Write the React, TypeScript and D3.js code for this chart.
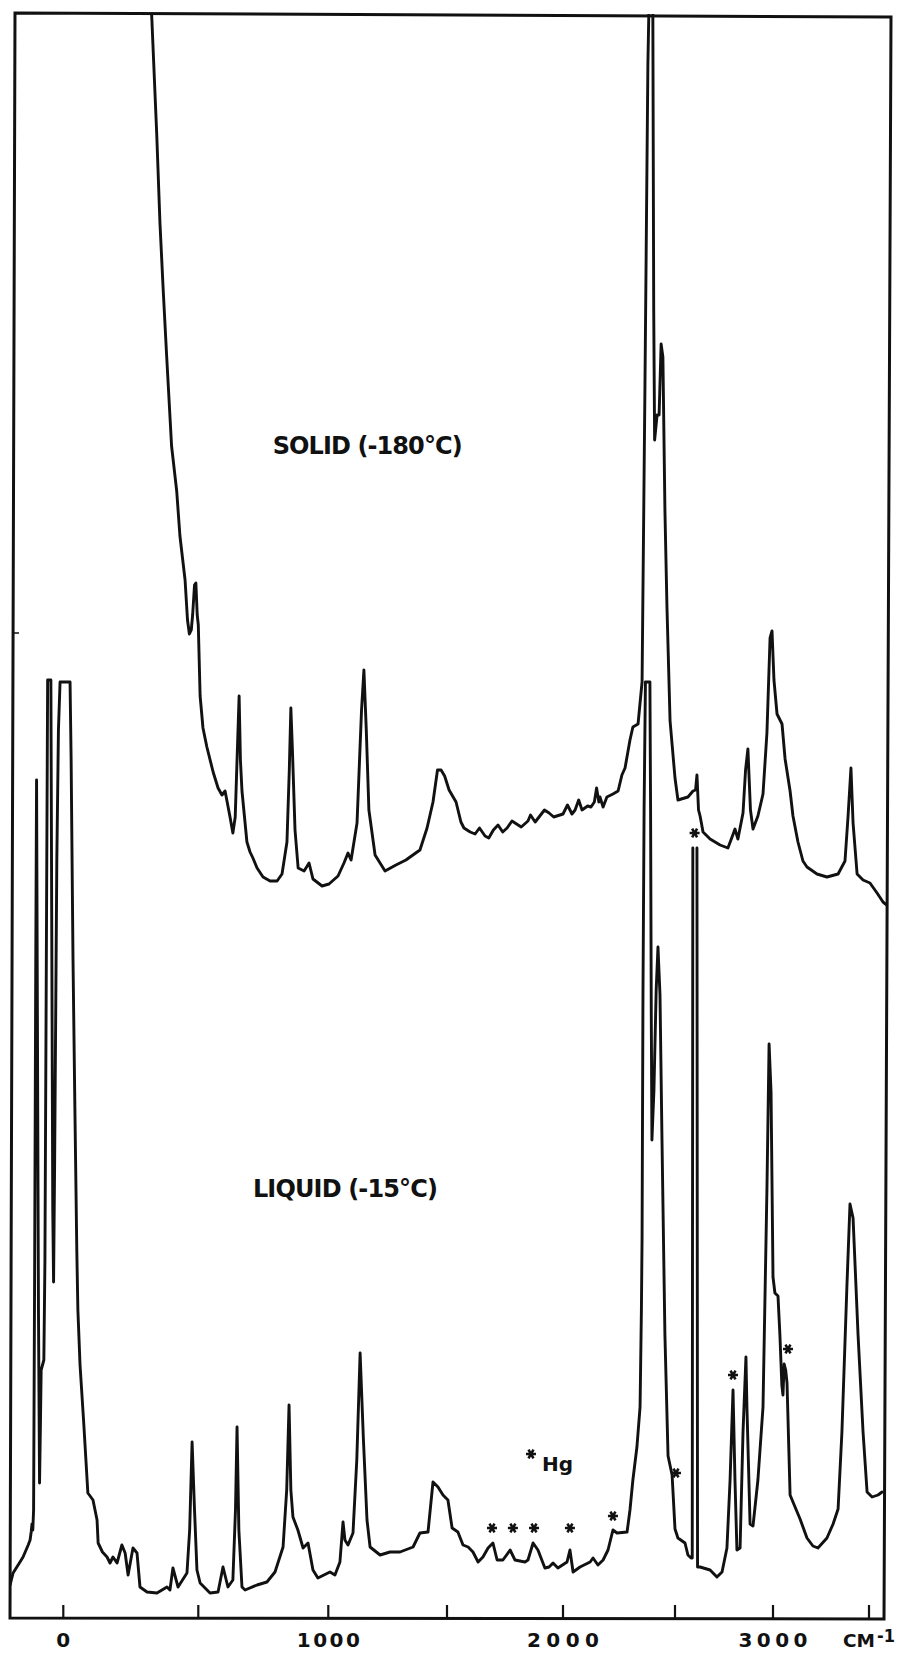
import React from "react";
import * as d3 from "d3";

// ---- axis calibration (cm-1 values of the printed ticks) ----
const axisTicks = [0, 500, 1000, 1500, 2000, 2500, 3000, 3500];
const axisLabels: [number, string, number][] = [
  [0, "0", 14],
  [1000, "1000", 63],
  [2000, "2000", 72],
  [3000, "3000", 69],
];
const unitLabel = "CM";
const unitExp = "-1";

// ---- LIQUID (-15°C) spectrum: [wavenumber cm-1, intensity] (null = pen off scale) ----
const liquidSpectrum: [number, number | null][] = [
  [-197, 2.5], [-186, 3.7], [-165, 4.6], [-149, 5.3], [-130, 6.5], [-123, 7.0], [-119, 7.8], [-116, 8.6],
  [-113, 8.0], [-110, 10], [-106, 35], [-102, 65], [-99, 83], [-96, 60], [-92, 30], [-88, 12.7],
  [-85, 18], [-82, 24], [-72, 25], [-68, 35], [-62, 70], [-58, 93], [-46, 93], [-43, 70], [-39, 40],
  [-36, 32.8], [-32, 45], [-24, 75], [-18, 88], [-12, 92.8], [25, 92.8], [29, 85], [36, 65], [43, 50],
  [50, 36], [54, 30], [62, 24.5], [75, 19], [91, 11.7], [110, 11], [125, 9], [129, 6.7], [145, 5.8],
  [162, 5.3], [173, 4.7], [184, 5.3], [199, 4.7], [217, 6.5], [229, 5.7], [240, 3.5], [258, 6.2],
  [273, 5.7], [284, 2.3], [310, 1.8], [347, 1.7], [384, 2.3], [395, 2.0], [406, 4.2], [425, 2.3],
  [458, 3.7], [468, 8], [477, 16.8], [486, 10], [495, 4], [507, 2.7], [545, 1.7], [576, 1.8],
  [595, 4.3], [614, 2.3], [633, 3.0], [643, 10], [649, 18.3], [656, 8], [668, 2.3], [680, 2.0],
  [726, 2.5], [764, 2.8], [795, 3.8], [826, 6.3], [840, 12], [849, 20.5], [856, 12], [864, 9.3],
  [883, 8.0], [903, 6.2], [922, 6.7], [941, 4.0], [960, 3.2], [1007, 3.8], [1028, 3.5], [1049, 4.8],
  [1062, 8.8], [1070, 7], [1083, 6.5], [1104, 7.7], [1120, 15], [1134, 25.7], [1148, 17], [1163, 9],
  [1176, 6.3], [1218, 5.5], [1260, 5.8], [1302, 5.8], [1357, 6.3], [1386, 7.7], [1420, 7.8],
  [1441, 12.8], [1462, 12.3], [1483, 11.5], [1504, 11], [1522, 8.2], [1547, 7.8], [1569, 6.5],
  [1591, 6.3], [1612, 5.8], [1634, 4.8], [1655, 5.3], [1677, 6.2], [1698, 6.7], [1716, 5.0],
  [1741, 5.0], [1772, 6.0], [1793, 5.0], [1836, 4.8], [1849, 5.0], [1871, 6.7], [1892, 6.0],
  [1922, 4.2], [1940, 4.3], [1957, 4.7], [1978, 4.2], [2018, 4.8], [2031, 6.0], [2045, 3.8],
  [2076, 4.3], [2121, 4.8], [2134, 5.2], [2156, 4.5], [2179, 5.0], [2201, 6.0], [2223, 8.0],
  [2241, 7.7], [2286, 7.8], [2299, 10.0], [2312, 13.0], [2330, 16.3], [2344, 20.3], [2350, 30],
  [2353, 37.2], [2357, 61.5], [2362, 80], [2368, 92.8], [2388, 92.8], [2391, 80], [2394, 60],
  [2397, 47], [2406, 52], [2416, 62], [2424, 66.3], [2433, 61.5], [2442, 46.9], [2455, 27.5],
  [2469, 15.4], [2487, 13.5], [2500, 8.1], [2515, 7.2], [2551, 6.7], [2566, 5.5], [2582, 5.2],
  [2588, 5.2], [2591, 76.2], [2600, null], [2612, 76.2], [2615, 4.3], [2628, 4.3], [2679, 4.0],
  [2714, 3.3], [2740, 3.8], [2765, 6.2], [2781, 13], [2796, 22], [2806, 13], [2816, 6.0], [2832, 6.2],
  [2847, 17.8], [2862, 25.3], [2867, 20.3], [2883, 8.6], [2898, 8.4], [2923, 13], [2949, 20.3],
  [2969, 42], [2980, 56.6], [2990, 51.8], [3000, 33.3], [3010, 31.7], [3026, 31.4], [3036, 27.5],
  [3046, 22.5], [3052, 21.5], [3058, 24.6], [3066, 24], [3073, 22.7], [3089, 11.5], [3104, 10.8],
  [3141, 9.1], [3177, 7.2], [3208, 6.4], [3234, 6.2], [3281, 7.2], [3313, 8.6], [3339, 10.1],
  [3359, 17.8], [3385, 32.4], [3401, 40.6], [3417, 39.2], [3443, 27.5], [3469, 17.8], [3490, 11.8],
  [3516, 11.3], [3547, 11.5], [3568, 11.8],
];

// ---- SOLID (-180°C) spectrum ----
const solidSpectrum: [number, number][] = [
  [318, 170], [327, 159.7], [346, 147.6], [358, 138.7], [370, 132], [383, 125.3], [401, 116.4],
  [420, 111.9], [432, 107.4], [451, 103], [460, 99], [467, 97.6], [474, 98], [479, 99.5], [486, 102.5],
  [491, 102.7], [496, 99.5], [500, 98.5], [507, 91.4], [518, 88.2], [533, 86.3], [557, 83.8],
  [576, 82.2], [591, 81.5], [603, 81.9], [622, 79.3], [633, 77.7], [642, 79.3], [649, 85], [657, 91.4],
  [662, 85], [668, 81.9], [687, 76.8], [699, 75.8], [710, 75.2], [726, 74.2], [749, 73.3], [776, 72.9],
  [803, 72.9], [822, 73.6], [841, 76.8], [850, 84], [856, 90.2], [862, 86], [872, 78], [884, 74.2],
  [907, 73.9], [926, 74.7], [941, 73.1], [976, 72.4], [1003, 72.6], [1041, 73.4], [1066, 74.7],
  [1083, 75.7], [1096, 75.0], [1121, 78.7], [1140, 90], [1150, 94.0], [1160, 88], [1171, 80],
  [1197, 75.5], [1239, 73.9], [1285, 74.5], [1327, 75.0], [1386, 76.0], [1416, 78.2], [1441, 80.8],
  [1460, 84], [1475, 84.0], [1490, 83.4], [1509, 82], [1539, 80.8], [1560, 78.8], [1573, 78.2],
  [1600, 77.8], [1621, 77.6], [1640, 78.2], [1664, 77.4], [1680, 77.2], [1700, 78.0], [1720, 78.5],
  [1740, 77.8], [1759, 78.2], [1780, 78.9], [1800, 78.6], [1820, 78.3], [1849, 78.9], [1860, 79.5],
  [1880, 78.8], [1900, 79.4], [1920, 80.0], [1940, 79.7], [1960, 79.3], [2000, 79.6], [2020, 80.5],
  [2040, 79.6], [2054, 80.0], [2070, 81.0], [2085, 80.0], [2110, 80.4], [2125, 80.3], [2140, 80.8],
  [2150, 82.2], [2160, 80.8], [2165, 81.3], [2179, 80.3], [2196, 81.3], [2223, 81.6],
  [2246, 81.9], [2263, 83.5], [2277, 84.2], [2299, 87], [2312, 88.3], [2335, 88.6], [2353, 92.8],
  [2366, 122.7], [2379, 154.6], [2390, 168], [2400, 168], [2405, 130], [2409, 117], [2420, 119.5],
  [2429, 119.5], [2438, 126.6], [2446, 125.3], [2455, 110], [2464, 100.4], [2478, 88.9], [2500, 83.2],
  [2515, 81], [2566, 81.3], [2592, 81.9], [2605, 82], [2612, 83.5], [2620, 80], [2628, 79.4],
  [2643, 77.8], [2679, 77.1], [2730, 76.5], [2770, 76.2], [2795, 77.5], [2806, 78.1], [2821, 77.1],
  [2847, 79.7], [2860, 84], [2872, 86.1], [2885, 80], [2898, 78.1], [2923, 79.4], [2949, 81.6],
  [2969, 87.7], [2985, 97.2], [2995, 97.9], [3005, 93], [3021, 89.6], [3047, 88.6], [3063, 85.1],
  [3089, 81.9], [3104, 79.4], [3130, 76.8], [3156, 74.9], [3177, 74.3], [3229, 73.6], [3281, 73.3],
  [3339, 73.6], [3375, 74.9], [3391, 79.4], [3406, 84.2], [3417, 78.7], [3438, 73.6], [3469, 73.0],
  [3505, 72.7], [3542, 71.7], [3573, 70.8], [3599, 70.4],
];

// ---- Hg emission lines marked with asterisks: [cm-1, intensity] ----
const hgMarks: [number, number][] = [
  [1694, 8.2], [1784, 8.2], [1875, 8.2], [2031, 8.2], [2223, 9.4], [2505, 13.7],
  [2600, 77.7], [2796, 23.5], [3078, 26.1],
];

// ---- text annotations, placed in data units ----
const seriesLabels: { text: string; cm: number; v: number; len: number }[] = [
  { text: "SOLID (-180°C)", cm: 786, v: 115.6, len: 190 },
  { text: "LIQUID (-15°C)", cm: 710, v: 41.3, len: 185 },
];
const hgKey = { cm: 1862, v: 15.6, text: "Hg" };

// scale calibration of the recorder chart (non-linear wavenumber axis)
const calibCm = [-200, 0, 500, 1000, 1500, 2000, 2500, 3000, 3500, 3600];
const calibPx = [9.3, 63.3, 198.3, 328.3, 447, 563, 675, 773, 869, 888.2];

function asteriskPath(cx: number, cy: number, r: number) {
  let d = "";
  for (let i = 0; i < 3; i++) {
    const a = (i * Math.PI) / 3;
    const dx = r * Math.cos(a), dy = r * Math.sin(a);
    d += `M${cx - dx},${cy - dy}L${cx + dx},${cy + dy}`;
  }
  return d;
}

export default function App() {
  const W = 898, H = 1655;
  const x = d3.scaleLinear().domain(calibCm).range(calibPx);
  const y = d3.scaleLinear().domain([0, 160]).range([1610, 10]);
  const axisY = 1618;
  const font = "'DejaVu Sans', 'Open Sans', sans-serif";

  const line = d3
    .line<[number, number | null]>()
    .defined((d) => d[1] !== null)
    .x((d) => x(d[0]))
    .y((d) => y(d[1] as number));

  return (
    <svg
      width={W}
      height={H}
      viewBox={`0 0 ${W} ${H}`}
      style={{ position: "absolute", left: 0, top: 0, background: "#fff", display: "block" }}
    >
      <rect x={0} y={0} width={W} height={H} fill="#fff" />
      <defs>
        <clipPath id="plotClip">
          <rect x={10} y={14} width={878} height={1604} />
        </clipPath>
      </defs>

      {/* frame */}
      <path d={`M15,13 L891,17 L884,${axisY + 1} L10,${axisY} Z`} fill="none" stroke="#111" strokeWidth={3} strokeLinejoin="miter" />
      {/* small reference tick on the left border */}
      <line x1={13} x2={19} y1={y(97.7)} y2={y(97.7)} stroke="#111" strokeWidth={1.5} />

      {/* ticks */}
      {axisTicks.map((t) => (
        <line key={t} x1={x(t)} x2={x(t)} y1={axisY} y2={axisY - 13} stroke="#111" strokeWidth={2.2} />
      ))}
      {axisLabels.map(([t, s, len]) => (
        <text
          key={t}
          x={x(t)}
          y={1647}
          textAnchor="middle"
          fontFamily={font}
          fontWeight="bold"
          fontSize={20}
          textLength={len}
          lengthAdjust="spacing"
          fill="#111"
        >
          {s}
        </text>
      ))}
      <text x={x(3500) - 26} y={1647} fontFamily={font} fontWeight="bold" fontSize={18} textLength={32} lengthAdjust="spacingAndGlyphs" fill="#111">
        {unitLabel}
      </text>
      <text x={x(3500) + 8} y={1642} fontFamily={font} fontWeight="bold" fontSize={17} textLength={18} lengthAdjust="spacingAndGlyphs" fill="#111">
        {unitExp}
      </text>

      {/* spectra */}
      <g clipPath="url(#plotClip)">
        <path d={line(solidSpectrum as [number, number | null][]) || ""} fill="none" stroke="#111" strokeWidth={2.9} strokeLinejoin="round" strokeLinecap="round" />
        <path d={line(liquidSpectrum) || ""} fill="none" stroke="#111" strokeWidth={2.9} strokeLinejoin="round" strokeLinecap="round" />
      </g>

      {/* Hg asterisks */}
      {hgMarks.map(([c, v], i) => (
        <path key={i} d={asteriskPath(x(c), y(v), 5)} stroke="#111" strokeWidth={2.6} strokeLinecap="butt" fill="none" />
      ))}
      <path d={asteriskPath(x(hgKey.cm), y(hgKey.v), 5)} stroke="#111" strokeWidth={2.6} fill="none" />
      <text x={x(hgKey.cm) + 11} y={y(13.9)} fontFamily={font} fontWeight="bold" fontSize={20} fill="#111">
        {hgKey.text}
      </text>

      {/* series labels */}
      {seriesLabels.map((l) => (
        <text
          key={l.text}
          x={x(l.cm)}
          y={y(l.v)}
          fontFamily={font}
          fontWeight="bold"
          fontSize={24}
          textLength={l.len}
          lengthAdjust="spacing"
          fill="#111"
        >
          {l.text}
        </text>
      ))}
    </svg>
  );
}
